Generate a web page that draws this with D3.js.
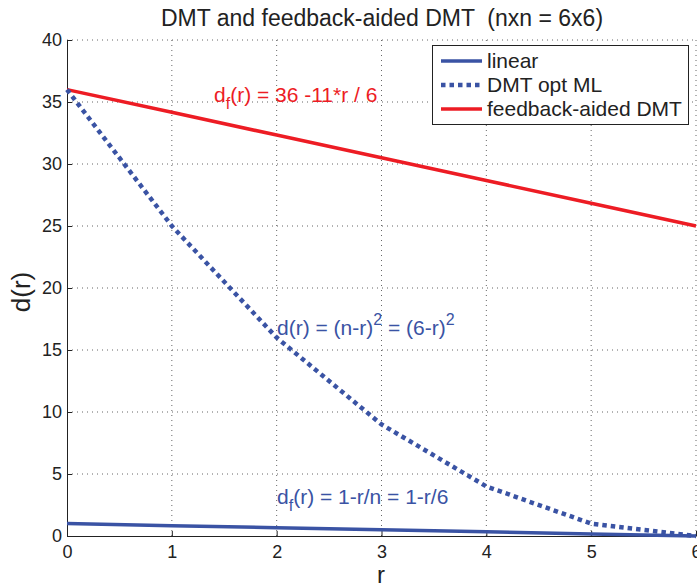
<!DOCTYPE html>
<html><head><meta charset="utf-8">
<script src="https://cdn.jsdelivr.net/npm/d3@7"></script>
<style>body{margin:0;background:#fff}svg{display:block;font-family:"Liberation Sans",Arial,sans-serif}</style>
</head><body><svg id="c" width="697" height="584"></svg>
<script>
const rVals = [0, 1, 2, 3, 4, 5, 6];
const linearVals = [1, 5/6, 4/6, 3/6, 2/6, 1/6, 0];
const dmtVals = [36, 25, 16, 9, 4, 1, 0];
const feedbackVals = [36, 34.1667, 32.3333, 30.5, 28.6667, 26.8333, 25];
const xTicks = [0, 1, 2, 3, 4, 5, 6];
const yTicks = [0, 5, 10, 15, 20, 25, 30, 35, 40];
const seriesNames = ["linear", "DMT opt ML", "feedback-aided DMT"];

const blue = "#3a53a4", red = "#ed1c24";
const svg = d3.select("#c");
const L = 67, R = 696, T = 40, B = 536;
const x = d3.scaleLinear().domain([0, 6]).range([L, R]);
const y = d3.scaleLinear().domain([0, 40]).range([B, T]);

// grid
const g = svg.append("g").attr("stroke", "#666").attr("stroke-width", 1).attr("stroke-dasharray", "1 4");
xTicks.slice(1).forEach(t => g.append("line").attr("x1", x(t)).attr("x2", x(t)).attr("y1", T).attr("y2", B));
yTicks.slice(1).forEach(t => g.append("line").attr("x1", L).attr("x2", R).attr("y1", y(t)).attr("y2", y(t)));

// axes
const xa = svg.append("g").attr("transform", `translate(0,${B})`)
  .call(d3.axisBottom(x).tickValues(xTicks).tickFormat(d3.format("d")).tickSizeInner(-5).tickSizeOuter(0).tickPadding(9));
const ya = svg.append("g").attr("transform", `translate(${L},0)`)
  .call(d3.axisLeft(y).tickValues(yTicks).tickFormat(d3.format("d")).tickSizeInner(-5).tickSizeOuter(0).tickPadding(5));
[xa, ya].forEach(a => {
  a.select(".domain").attr("stroke", "#222").attr("stroke-width", 1);
  a.selectAll(".tick line").attr("stroke", "#222");
  a.selectAll("text").attr("font-size", 18).attr("fill", "#222").attr("font-family", "Liberation Sans, Arial, sans-serif");
});

const line = d3.line().x((d, i) => x(rVals[i])).y(d => y(d));
svg.append("path").datum(feedbackVals).attr("d", line).attr("fill", "none").attr("stroke", red).attr("stroke-width", 3.5);
svg.append("path").datum(dmtVals).attr("d", line).attr("fill", "none").attr("stroke", blue).attr("stroke-width", 4.5).attr("stroke-dasharray", "4.5 4");
svg.append("path").datum(linearVals).attr("d", line).attr("fill", "none").attr("stroke", blue).attr("stroke-width", 3.5);

// title & labels
svg.append("text").attr("x", 382).attr("y", 26).attr("text-anchor", "middle").attr("font-size", 23).attr("fill", "#222")
  .style("white-space", "pre").text("DMT and feedback-aided DMT  (nxn = 6x6)");
svg.append("text").attr("x", 381).attr("y", 583).attr("text-anchor", "middle").attr("font-size", 24).attr("fill", "#222").text("r");
svg.append("text").attr("transform", "translate(30,292) rotate(-90)").attr("text-anchor", "middle").attr("font-size", 26).attr("fill", "#222").text("d(r)");

// annotations
function ann(xp, yp, color, parts) {
  const t = svg.append("text").attr("x", xp).attr("y", yp).attr("font-size", 21).attr("fill", color);
  parts.forEach(p => {
    const s = t.append("tspan").text(p[0]);
    if (p[1] === "sub") s.attr("dy", 7).attr("font-size", 16);
    if (p[1] === "sup") s.attr("dy", -10).attr("font-size", 16);
    if (p[1] === "back") s.attr("dy", p[2]);
  });
}
ann(214, 102, red, [["d"], ["f", "sub"], ["(r) = 36 -11*r / 6", "back", -7]]);
ann(277, 335, blue, [["d(r) = (n-r)"], ["2", "sup"], [" = (6-r)", "back", 10], ["2", "sup"]]);
ann(277, 504, blue, [["d"], ["f", "sub"], ["(r) = 1-r/n = 1-r/6", "back", -7]]);

// legend
const lg = svg.append("g");
lg.append("rect").attr("x", 432.5).attr("y", 45.5).attr("width", 256).attr("height", 79).attr("fill", "#fff").attr("stroke", "#222").attr("stroke-width", 1);
const styles = [{c: blue, d: null, w: 3.5}, {c: blue, d: "4.5 4", w: 4.5}, {c: red, d: null, w: 3.5}];
seriesNames.forEach((n, i) => {
  const yy = 61 + i * 24;
  lg.append("line").attr("x1", 441).attr("x2", 482).attr("y1", yy).attr("y2", yy)
    .attr("stroke", styles[i].c).attr("stroke-width", styles[i].w).attr("stroke-dasharray", styles[i].d);
  lg.append("text").attr("x", 487).attr("y", yy + 7).attr("font-size", 21).attr("fill", "#222").text(n);
});
</script></body></html>
